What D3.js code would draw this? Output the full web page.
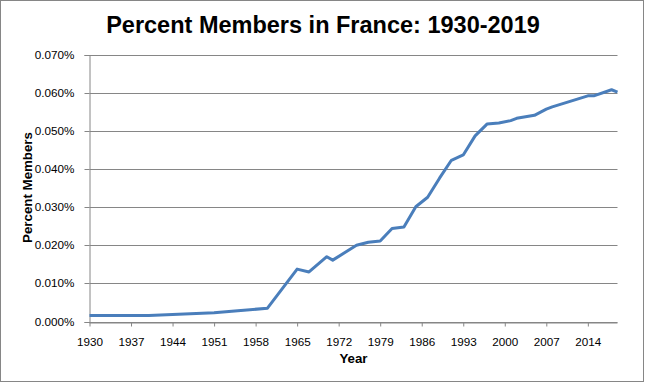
<!DOCTYPE html>
<html><head><meta charset="utf-8">
<script src="https://cdn.jsdelivr.net/npm/d3@7"></script>
<style>body{margin:0;background:#fff}svg{display:block}</style>
</head><body>
<svg id="c" width="646" height="383"></svg>
<script>
const years  = [1930,1940,1945,1951,1955,1960,1965,1967,1970,1971,1975,1977,1979,1981,1983,1985,1987,1989,1991,1993,1995,1997,1999,2001,2002,2005,2007,2008,2014,2015,2018,2019];
const values = [0.0016,0.0016,0.0019,0.0023,0.0028,0.0035,0.01375,0.0130,0.0170,0.0161,0.0200,0.0208,0.0211,0.0244,0.0248,0.0301,0.0326,0.0376,0.0423,0.0437,0.0487,0.0518,0.0521,0.0527,0.0533,0.0541,0.0557,0.0563,0.0592,0.0592,0.0608,0.0602];
const xTicks = [1930,1937,1944,1951,1958,1965,1972,1979,1986,1993,2000,2007,2014];
const yTicks = [0,0.01,0.02,0.03,0.04,0.05,0.06,0.07];
const title = "Percent Members in France: 1930-2019";

const svg = d3.select("#c");
const grid = "#868686";
svg.append("rect").attr("x",0.5).attr("y",0.5).attr("width",643).attr("height",381)
  .attr("fill","#fff").attr("stroke",grid);

const L=89.5, R=617.5, T=54.7, B=321.5;
const x = d3.scaleLinear().domain([1930,2019]).range([L,R]);
const y = d3.scaleLinear().domain([0,0.07]).range([B,T]);

// gridlines
svg.append("g").selectAll("line").data(yTicks).join("line")
  .attr("x1",L).attr("x2",R)
  .attr("y1",d=>Math.round(y(d))+0.5).attr("y2",d=>Math.round(y(d))+0.5)
  .attr("stroke",grid).attr("stroke-width",1);

const font = "'Liberation Sans', Arial, sans-serif";

// y axis
const ya = svg.append("g").attr("transform",`translate(${L},0)`)
  .call(d3.axisLeft(y).tickValues(yTicks).tickSize(5).tickPadding(8).tickFormat(d=>d3.format(".3f")(d)+"%"));
ya.selectAll(".tick").attr("transform",d=>`translate(0,${Math.round(y(d))+0.5})`);
ya.select(".domain").attr("stroke",grid).attr("d",`M-5,${Math.round(T)+0.5}H0.5V${Math.round(B)+0.5}H-5`);
ya.selectAll(".tick line").attr("stroke",grid);
ya.selectAll("text").attr("font-family",font).attr("font-size","11.7px").attr("fill","#000").attr("dx","-2");

// x axis
const xa = svg.append("g").attr("transform",`translate(0,${Math.round(B)+0.5})`)
  .call(d3.axisBottom(x).tickValues(xTicks).tickSize(4).tickPadding(11).tickFormat(d3.format("d")));
xa.select(".domain").attr("stroke",grid).attr("d",`M${L},0.5H${R}`);
xa.selectAll(".tick line").attr("stroke",grid);
xa.selectAll("text").attr("font-family",font).attr("font-size","11.7px").attr("fill","#000");

// line
svg.append("path").datum(years.map((yr,i)=>[yr,values[i]]))
  .attr("fill","none").attr("stroke","#4A7EBB").attr("stroke-width",3).attr("stroke-linejoin","round")
  .attr("d",d3.line().x(d=>x(d[0])).y(d=>y(d[1])));

// titles
svg.append("text").attr("x",323).attr("y",33).attr("text-anchor","middle")
  .attr("font-family",font).attr("font-weight","bold").attr("font-size","23.5px").text(title);
svg.append("text").attr("x",353.5).attr("y",363).attr("text-anchor","middle")
  .attr("font-family",font).attr("font-weight","bold").attr("font-size","13.3px").text("Year");
svg.append("text").attr("transform","translate(32,187.5) rotate(-90)").attr("text-anchor","middle")
  .attr("font-family",font).attr("font-weight","bold").attr("font-size","13.3px").text("Percent Members");
</script>
</body></html>
